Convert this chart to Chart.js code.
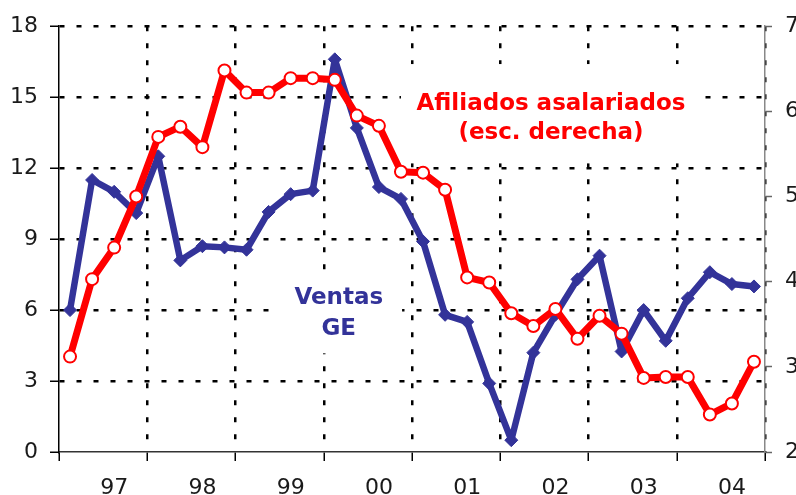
<!DOCTYPE html>
<html>
<head>
<meta charset="utf-8">
<script src="https://cdn.jsdelivr.net/npm/chart.js@4.4.1/dist/chart.umd.min.js"></script>
<style>
  html, body { margin: 0; padding: 0; background: #ffffff; overflow: hidden; }
  #wrap { width: 796px; height: 495px; position: relative; }
</style>
</head>
<body>
<div id="wrap"><canvas id="chart"></canvas></div>
<script>
const years = ['97', '98', '99', '00', '01', '02', '03', '04'];

// Ventas grandes empresas, escala izquierda (quarterly, 97-I .. 04-IV)
const ventasGE = [
  6.0, 11.5, 11.0, 10.1,
  12.5, 8.1, 8.7, 8.65,
  8.55, 10.15, 10.9, 11.05,
  16.6, 13.7, 11.2, 10.7,
  8.9, 5.8, 5.5, 2.9,
  0.5, 4.2, 5.8, 7.3,
  8.3, 4.25, 6.0, 4.7,
  6.5, 7.6, 7.1, 7.0
];

// Afiliados asalariados, escala derecha
const afiliados = [
  3.12, 4.03, 4.40, 5.00,
  5.70, 5.82, 5.58, 6.48,
  6.22, 6.22, 6.39, 6.39,
  6.37, 5.95, 5.83, 5.29,
  5.28, 5.08, 4.05, 3.99,
  3.63, 3.48, 3.68, 3.33,
  3.60, 3.39, 2.87, 2.88,
  2.88, 2.44, 2.57, 3.06
];

const leftRange = [0, 18, 3];
const rightRange = [2, 7, 1];

const notes = [
  { lines: ['Afiliados asalariados', '(esc. derecha)'], color: '#ff0000', x: 22.3, y: [14.45, 13.25], box: [15.5, 16.4, 28.9, 12.2] },
  { lines: ['Ventas', 'GE'], color: '#333399', x: 12.68, y: [6.26, 4.93], box: [9.8, 7.5, 15.55, 4.17] }
];

const notesPlugin = {
  id: 'notes',
  beforeDatasetsDraw(chart) {
    const { ctx } = chart;
    const x = chart.scales.x;
    const y = chart.scales.y;
    ctx.save();
    notes.forEach(n => {
      const x0 = x.getPixelForValue(n.box[0]);
      const y0 = y.getPixelForValue(n.box[1]);
      const x1 = x.getPixelForValue(n.box[2]);
      const y1 = y.getPixelForValue(n.box[3]);
      ctx.fillStyle = '#ffffff';
      ctx.fillRect(x0, y0, x1 - x0, y1 - y0);
      ctx.fillStyle = n.color;
      ctx.font = 'bold 23px "DejaVu Sans"';
      ctx.textAlign = 'center';
      ctx.textBaseline = 'alphabetic';
      n.lines.forEach((t, i) => ctx.fillText(t, x.getPixelForValue(n.x), y.getPixelForValue(n.y[i])));
    });
    ctx.restore();
  }
};

const toPoints = arr => arr.map((v, i) => ({ x: i + 0.5, y: v }));

const gridDash = [5, 12];

Chart.defaults.font.family = '"DejaVu Sans", Verdana, sans-serif';
Chart.defaults.font.size = 22;
Chart.defaults.color = '#1a1a1a';

new Chart(document.getElementById('chart').getContext('2d'), {
  type: 'line',
  data: {
    datasets: [
      {
        label: 'Afiliados asalariados (esc. derecha)',
        data: toPoints(afiliados),
        yAxisID: 'y2',
        borderColor: '#ff0000',
        backgroundColor: '#ff0000',
        borderWidth: 7,
        borderJoinStyle: 'round',
        pointStyle: 'circle',
        pointRadius: 6,
        pointBorderWidth: 2,
        pointBackgroundColor: '#ffffff',
        pointBorderColor: '#ff0000',
        fill: false,
        tension: 0
      },
      {
        label: 'Ventas GE',
        data: toPoints(ventasGE),
        yAxisID: 'y',
        borderColor: '#333399',
        backgroundColor: '#333399',
        borderWidth: 6.5,
        borderJoinStyle: 'round',
        pointStyle: 'rectRot',
        pointRadius: 6.5,
        pointBorderWidth: 1,
        pointBackgroundColor: '#333399',
        pointBorderColor: '#333399',
        fill: false,
        tension: 0
      }
    ]
  },
  options: {
    responsive: true,
    maintainAspectRatio: false,
    animation: false,
    layout: { padding: { top: 24, left: 0, right: 0, bottom: 0 } },
    plugins: {
      legend: { display: false },
      tooltip: { enabled: false }
    },
    scales: {
      x: {
        type: 'linear',
        min: 0,
        max: years.length * 4,
        afterBuildTicks: scale => {
          const t = [];
          for (let k = 0; k <= years.length; k++) {
            t.push({ value: k * 4 });
            if (k < years.length) t.push({ value: k * 4 + 2.5 });
          }
          scale.ticks = t;
        },
        afterFit: scale => { scale.height = 43; },
        ticks: {
          autoSkip: false,
          maxRotation: 0,
          padding: 14,
          callback: value => value % 4 === 0 ? '' : years[Math.floor(value / 4)]
        },
        grid: {
          color: ctx => (ctx.tick && ctx.tick.value % 4 === 0 && ctx.tick.value > 0) ? '#000000' : 'rgba(0,0,0,0)',
          tickColor: ctx => (ctx.tick && ctx.tick.value % 4 === 0) ? '#000000' : 'rgba(0,0,0,0)',
          lineWidth: 2.5,
          tickWidth: 1.5,
          tickLength: 9,
          tickBorderDash: []
        },
        border: { display: true, color: '#333333', width: 1.5, dash: gridDash }
      },
      y: {
        position: 'left',
        min: leftRange[0],
        max: leftRange[1],
        afterFit: scale => { scale.width = 59; },
        ticks: { stepSize: leftRange[2], padding: 12 },
        grid: {
          color: ctx => (ctx.tick && ctx.tick.value > 0) ? '#000000' : 'rgba(0,0,0,0)',
          tickColor: '#000000',
          lineWidth: 2.5,
          tickWidth: 1.5,
          tickLength: 9,
          tickBorderDash: []
        },
        border: { display: true, color: '#000000', width: 1.5, dash: gridDash }
      },
      y2: {
        position: 'right',
        min: rightRange[0],
        max: rightRange[1],
        afterFit: scale => { scale.width = 31; },
        ticks: { stepSize: rightRange[2], padding: 13 },
        grid: {
          drawOnChartArea: false,
          tickColor: '#666666',
          tickWidth: 1.5,
          tickLength: 7
        },
        border: { display: true, color: '#888888', width: 1.5 }
      }
    }
  },
  plugins: [notesPlugin]
});
</script>
</body>
</html>
